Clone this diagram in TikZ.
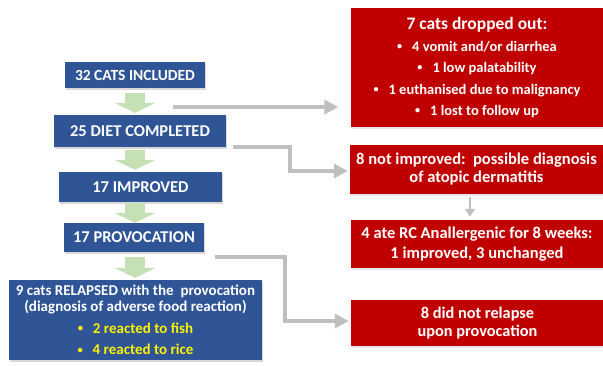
\documentclass[tikz,border=0pt]{standalone}
\usepackage{fontspec}
\setmainfont{Carlito}
\usetikzlibrary{positioning,arrows.meta,shadows}
\definecolor{boxblue}{HTML}{2F5597}
\definecolor{boxred}{HTML}{C00000}
\definecolor{arrgreen}{HTML}{C5E0B4}
\definecolor{lingrey}{HTML}{BFBFBF}
\newcommand{\bul}{\raisebox{0.12em}{\scalebox{0.7}{\textbullet}}\hspace{10pt}}
\begin{document}
\begin{tikzpicture}[x=1pt,y=-1pt,
  bluebox/.style={fill=boxblue,text=white,font=\bfseries\fontsize{16.5}{19}\selectfont,inner sep=2pt,align=center,drop shadow={shadow xshift=1pt,shadow yshift=-1.5pt,fill=black!30}},
  redbox/.style={fill=boxred,text=white,font=\bfseries\fontsize{16.5}{18}\selectfont,inner sep=2pt,align=center,minimum width=253pt,drop shadow={shadow xshift=1pt,shadow yshift=-1.5pt,fill=black!20}},
  grnarrow/.style={draw=arrgreen,line width=20pt,-{Triangle[length=10pt,width=41pt]}},
  gryline/.style={draw=lingrey,line width=4pt,-{Triangle[length=14pt,width=14pt]}}]
\useasboundingbox (0,0) rectangle (603,365);
% blue column
\node[bluebox,minimum width=140pt,minimum height=26pt,font=\bfseries\fontsize{15.5}{18}\selectfont] (incl) at (135,75) {32 CATS INCLUDED};
\node[bluebox,minimum width=172pt,minimum height=32pt] (diet) at (140,131) {25 DIET COMPLETED};
\node[bluebox,minimum width=163pt,minimum height=30pt] (impr) at (140.5,187) {17 IMPROVED};
\node[bluebox,minimum width=140pt,minimum height=29pt] (prov) at (134,237.5) {17 PROVOCATION};
\node[bluebox,minimum width=253pt,minimum height=80pt,font=\bfseries\fontsize{15}{16.5}\selectfont] (relap) at (135.5,320)
  {9 cats RELAPSED with the\ \ provocation\\(diagnosis of adverse food reaction)\\[5pt]
   \textcolor{yellow}{\bul 2 reacted to fish}\\[5pt]\textcolor{yellow}{\bul 4 reacted to rice}};
% red column
\node[redbox,minimum height=119pt,font=\bfseries\fontsize{14.5}{21.5}\selectfont] (drop) at (477,67.5)
  {{\fontsize{17.5}{21}\selectfont 7 cats dropped out:}\\\bul 4 vomit and/or diarrhea\\\bul 1 low palatability\\
   \bul 1 euthanised due to malignancy\\\bul 1 lost to follow up};
\node[redbox,minimum height=49pt] (notimp) at (476.5,169.5) {8 not improved:\ \ possible diagnosis\\of atopic dermatitis};
\node[redbox,minimum height=48pt,font=\bfseries\fontsize{16.5}{20}\selectfont] (anall) at (477,244) {4 ate RC Anallergenic for 8 weeks:\\1 improved, 3 unchanged};
\node[redbox,minimum height=46pt,font=\bfseries\fontsize{16.3}{17.5}\selectfont] (norel) at (477.5,323) {8 did not relapse\\upon provocation};
% green block arrows
\draw[grnarrow,shorten <=5pt,shorten >=2pt] (incl.south) -- (incl.south |- diet.north);
\draw[grnarrow,shorten <=3pt,shorten >=2pt] (incl.south |- diet.south) -- (incl.south |- impr.north);
\draw[grnarrow,shorten <=1pt,shorten >=0pt] (incl.south |- impr.south) -- (incl.south |- prov.north);
\draw[grnarrow,shorten <=5pt,shorten >=2pt] (incl.south |- prov.south) -- (incl.south |- relap.north);
% grey connectors
\coordinate (c1) at (173,107);
\coordinate (c2) at (233,147);
\coordinate (c3) at (215,257);
\draw[gryline,shorten >=12pt] (c1) -- (c1 -| drop.west);
\draw[gryline,shorten >=2pt] (c2) -| (290,171) -- (notimp.west |- 0,171);
\draw[gryline,shorten >=2pt] (c3) -| (285,321) -- (norel.west |- 0,321);
\draw[draw=lingrey,line width=2.5pt,-{Triangle[length=8pt,width=10pt]},shorten <=3pt,shorten >=3pt] (470,0 |- notimp.south) -- (470,0 |- anall.north);
\end{tikzpicture}
\end{document}
